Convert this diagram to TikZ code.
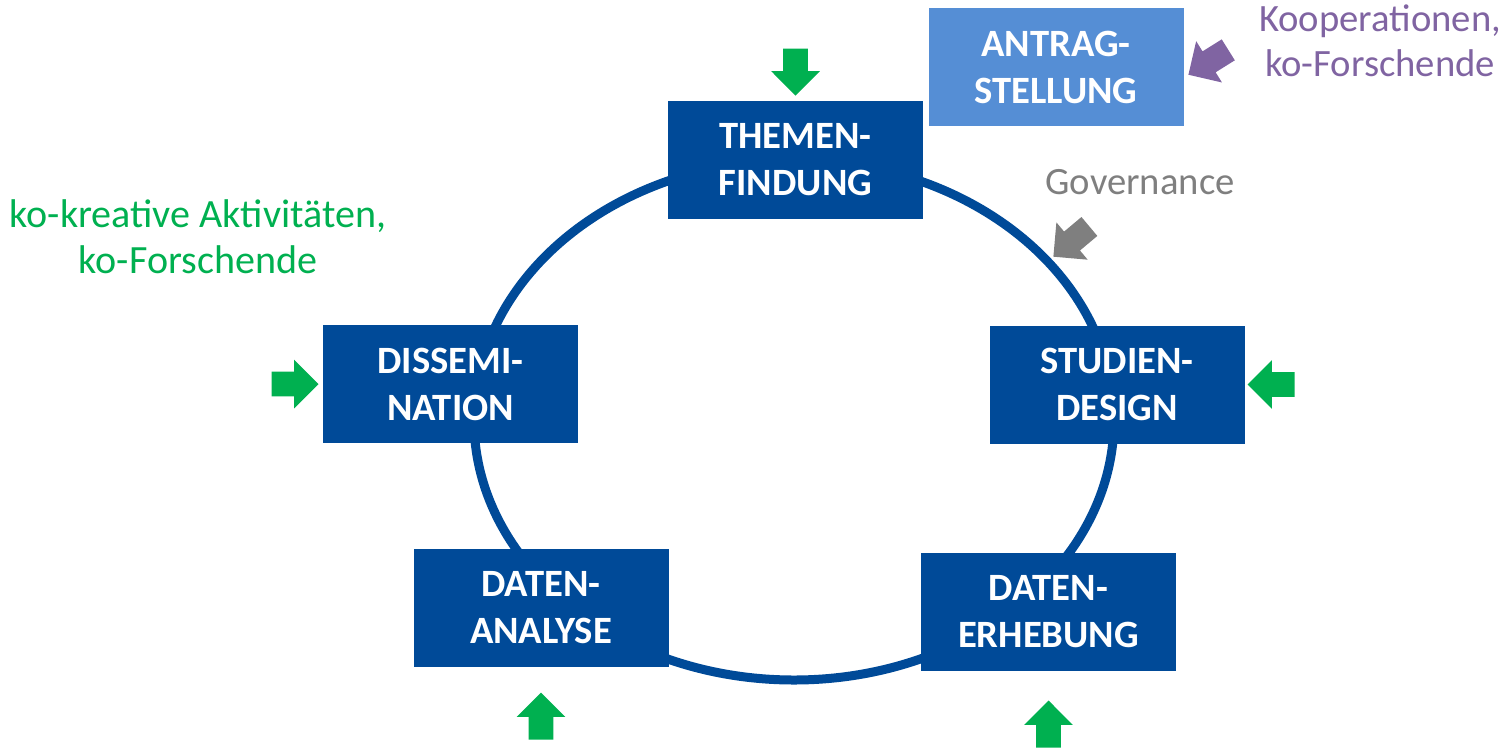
\documentclass[tikz,border=0pt]{standalone}
\usepackage{fontspec}
\setmainfont{Carlito}
\usepackage{xcolor}
\usepackage{tikz}
\usetikzlibrary{shapes, positioning}
\definecolor{boxblau}{RGB}{0,74,152}
\definecolor{hellblau}{RGB}{85,142,213}
\definecolor{gruen}{RGB}{0,176,80}
\definecolor{lila}{RGB}{128,100,162}
\definecolor{grau}{RGB}{127,127,127}
\tikzset{
    boxnode/.style = {rectangle, fill=boxblau, text=white, inner sep=0em, node distance=0em,
      minimum width=5.1cm, minimum height=2.36cm, font=\fontsize{22}{26.7}\selectfont\bfseries},
    antragnode/.style = {boxnode, fill=hellblau},
    textnode/.style = {draw=none, fill=none, rectangle, inner sep=0em, node distance=0em,
      font=\fontsize{22}{25.5}\selectfont},
    pfeilnode/.style = {single arrow, draw=none, fill=gruen, inner sep=0em, inner ysep=0.24cm,
      single arrow head extend=0.24cm, single arrow tip angle=90, minimum height=0.94cm,
      node distance=0em},
    ring/.style = {draw=boxblau, line width=0.18cm},
    every text node part/.style={align=center}
}
\begin{document}
\begin{tikzpicture}
    \useasboundingbox (0,0) rectangle (30.22,-14.94);
    \coordinate (mitte) at (15.88,-8.4);
    \draw [ring] (mitte) ellipse [x radius=6.4cm, y radius=5.2cm];

    \node [name=themen, boxnode, right of = mitte, xshift=0.03cm, yshift=5.2cm] {THEMEN-\\FINDUNG};
    \node [name=studien, boxnode, right of = mitte, xshift=6.46cm, yshift=0.71cm] {STUDIEN-\\DESIGN};
    \node [name=erhebung, boxnode, right of = mitte, xshift=5.09cm, yshift=-3.83cm] {DATEN-\\ERHEBUNG};
    \node [name=analyse, boxnode, right of = mitte, xshift=-5.06cm, yshift=-3.76cm] {DATEN-\\ANALYSE};
    \node [name=dissem, boxnode, right of = mitte, xshift=-6.87cm, yshift=0.72cm] {DISSEMI-\\NATION};
    \node [name=antrag, antragnode, right of = mitte, xshift=5.24cm, yshift=7.06cm] {ANTRAG-\\STELLUNG};

    \node [name=p1, pfeilnode, above of = themen, yshift=1.28cm, rotate=-90, anchor=tip] {};
    \node [name=p2, pfeilnode, right of = studien, xshift=2.6cm, rotate=180, anchor=tip] {};
    \node [name=p3, pfeilnode, below of = erhebung, yshift=-1.77cm, rotate=90, anchor=tip] {};
    \node [name=p4, pfeilnode, below of = analyse, yshift=-1.68cm, rotate=90, anchor=tip] {};
    \node [name=p5, pfeilnode, left of = dissem, xshift=-2.63cm, anchor=tip] {};

    \node [name=pkoop, pfeilnode, fill=lila, right of = antrag, xshift=2.64cm, yshift=-0.16cm,
        rotate=212, anchor=tip] {};
    \node [name=pgov, pfeilnode, fill=grau, right of = mitte, xshift=5.18cm, yshift=3.26cm,
        rotate=220, anchor=tip] {};

    \node [name=koop, textnode, text=lila, right of = antrag, xshift=6.48cm, yshift=0.52cm]
        {Kooperationen,\\ko-Forschende};
    \node [name=gov, textnode, text=grau, right of = mitte, xshift=6.92cm, yshift=4.76cm] {Governance};
    \node [name=kreativ, textnode, text=gruen, font=\fontsize{22.8}{26}\selectfont,
        right of = mitte, xshift=-11.92cm, yshift=3.66cm]
        {ko-kreative Aktivitäten,\\ko-Forschende};
\end{tikzpicture}
\end{document}
